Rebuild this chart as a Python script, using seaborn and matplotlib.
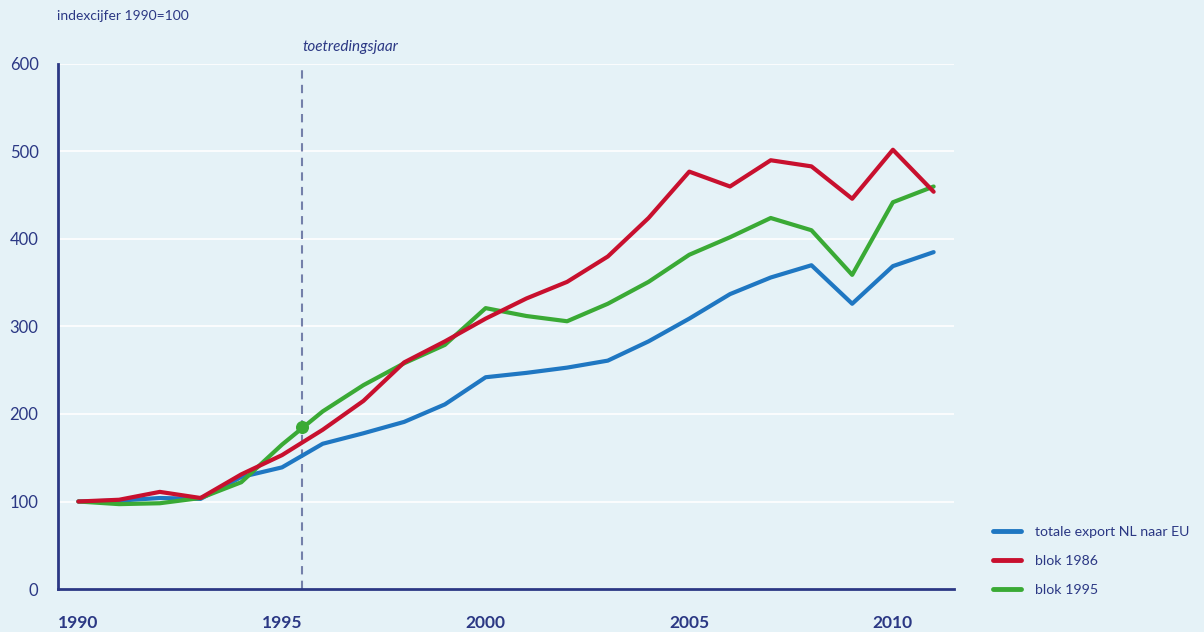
import pandas as pd
import numpy as np
import matplotlib.pyplot as plt
import seaborn as sns
from matplotlib.lines import Line2D

# Values (index 1990 = 100)
years = list(range(1990, 2012))
totale_export = [100, 101, 104, 103, 128, 139, 166, 178, 191, 211, 242, 247, 253, 261, 283, 309, 337, 356, 370, 326, 369, 385]
blok_1986 = [100, 102, 111, 104, 131, 153, 182, 215, 259, 283, 309, 332, 351, 380, 424, 477, 460, 490, 483, 446, 502, 454]
blok_1995 = [100, 97, 98, 104, 122, 165, 203, 233, 258, 279, 321, 312, 306, 326, 351, 382, 402, 424, 410, 359, 442, 460]
series_names = ['totale export NL naar EU', 'blok 1986', 'blok 1995']
major_years = [1990, 1995, 2000, 2005, 2010]
y_ticks = [0, 100, 200, 300, 400, 500, 600]
accession_year = 1995.5
accession_value = 185

colors = {'totale export NL naar EU': '#1f77c2',
          'blok 1986': '#c8102e',
          'blok 1995': '#3aaa35'}
navy = '#2b3884'
bg = '#e5f2f7'

df = pd.DataFrame({'jaar': years * 3,
                   'index': totale_export + blok_1986 + blok_1995,
                   'reeks': [series_names[0]] * len(years) + [series_names[1]] * len(years) + [series_names[2]] * len(years)})

sns.set_theme(style='white')
plt.rcParams['font.family'] = ['Lato', 'DejaVu Sans']

fig = plt.figure(figsize=(12.04, 6.32), dpi=100, facecolor=bg)
ax = fig.add_axes([58 / 1204, 43 / 632, 896 / 1204, 525 / 632])
ax.set_facecolor(bg)

# draw order: blue, green, red
sns.lineplot(data=df, x='jaar', y='index', hue='reeks',
             hue_order=['totale export NL naar EU', 'blok 1995', 'blok 1986'],
             palette=colors, linewidth=3, ax=ax, legend=False)

# accession year marker
ax.axvline(accession_year, color='#7480aa', ls=(0, (4, 3)), lw=1.5, zorder=1)
ax.scatter([accession_year], [accession_value], s=70, color=colors['blok 1995'], zorder=5)
ax.annotate('toetredingsjaar', xy=(accession_year, 1.0), xycoords=('data', 'axes fraction'),
            xytext=(0, 7), textcoords='offset points', ha='left', va='bottom',
            fontsize=11, style='italic', color=navy)

ax.set_xlim(1989.5, 2011.5)
ax.set_ylim(0, 600)
ax.set_yticks(y_ticks)
ax.set_yticklabels([str(v) for v in y_ticks], fontsize=12, color=navy)
ax.set_xticks(major_years)
ax.set_xticklabels([str(v) for v in major_years], fontsize=12.5, fontweight='bold', color=navy)
ax.set_xticks([y + 0.5 for y in years], minor=True)
ax.tick_params(axis='x', which='major', length=0, pad=19)
ax.tick_params(axis='x', which='minor', direction='in', length=9, width=1.2, color='white')
ax.tick_params(axis='y', length=0, pad=14)
ax.set_xlabel('')
ax.set_ylabel('')

ax.yaxis.grid(True, color='white', lw=1.2)
ax.xaxis.grid(False)
ax.set_axisbelow(True)
for side in ['top', 'right']:
    ax.spines[side].set_visible(False)
for side in ['left', 'bottom']:
    ax.spines[side].set_color(navy)
    ax.spines[side].set_linewidth(2)

fig.text(57 / 1204, 1 - 16 / 632, 'indexcijfer 1990=100', fontsize=10, color=navy, va='center', ha='left')

handles = [Line2D([0], [0], color=colors[n], lw=3.5) for n in series_names]
leg = fig.legend(handles, series_names, loc='center left', bbox_to_anchor=(980 / 1204, 1 - 561 / 632),
                 frameon=False, fontsize=10.2, handlelength=2.0, labelspacing=1.2, handletextpad=1.0)
for t in leg.get_texts():
    t.set_color(navy)

plt.savefig('out.png', dpi=100, facecolor=bg)
